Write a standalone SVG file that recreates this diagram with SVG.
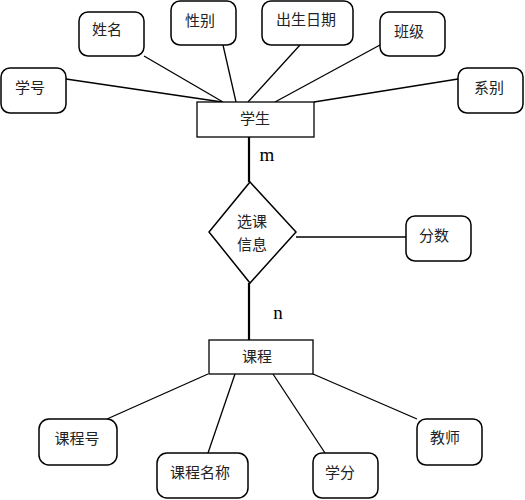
<svg xmlns="http://www.w3.org/2000/svg" width="525" height="500" viewBox="0 0 525 500">
<style>
.bg{fill:#fff}
.attr{fill:#fff;stroke:#000;stroke-width:1.5}
.ent{fill:#fff;stroke:#000;stroke-width:1.3}
.rel{fill:#fff;stroke:#000;stroke-width:1.5}
.t{font-family:"Noto Sans CJK SC","Noto Sans",sans-serif;font-size:15px;fill:#222;text-anchor:middle}
.c{font-family:"Liberation Serif",serif;font-size:19px;fill:#000;text-anchor:middle}
.ln{stroke:#000;stroke-width:1.3;fill:none}
.lnb{stroke:#000;stroke-width:2.2;fill:none}
</style>
<rect class="bg" x="0" y="0" width="525" height="500"/>
<g id="connectors">
<line class="ln" x1="66" y1="79" x2="222" y2="102"/>
<line class="ln" x1="144" y1="56" x2="223" y2="102"/>
<line class="ln" x1="223" y1="45" x2="236" y2="102"/>
<line class="ln" x1="300" y1="45" x2="248" y2="102"/>
<line class="ln" x1="380" y1="45" x2="275" y2="102"/>
<line class="ln" x1="458" y1="79" x2="314" y2="102"/>
<line class="lnb" x1="249" y1="137" x2="249" y2="182"/>
<line class="lnb" x1="249" y1="283" x2="249" y2="340"/>
<line class="ln" x1="296" y1="237" x2="406" y2="237"/>
<line class="ln" x1="208" y1="374" x2="107" y2="419"/>
<line class="ln" x1="235" y1="374" x2="208" y2="453"/>
<line class="ln" x1="273" y1="374" x2="325" y2="453"/>
<line class="ln" x1="313" y1="374" x2="417" y2="419"/>
<text class="c" x="267" y="161">m</text>
<text class="c" x="278" y="319">n</text>
</g>
<g id="student">
<rect class="ent" x="197" y="102" width="117" height="35"/>
<text class="t" x="255" y="124">学生</text>
</g>
<g id="sno">
<rect class="attr" x="1" y="68" width="65" height="45" rx="9"/>
<text class="t" x="30" y="93">学号</text>
</g>
<g id="sname">
<rect class="attr" x="79" y="12" width="65" height="44" rx="9"/>
<text class="t" x="107" y="35">姓名</text>
</g>
<g id="sex">
<rect class="attr" x="171" y="1" width="65" height="44" rx="9"/>
<text class="t" x="200" y="26">性别</text>
</g>
<g id="birth">
<rect class="attr" x="262" y="1" width="91" height="44" rx="9"/>
<text class="t" x="306" y="25">出生日期</text>
</g>
<g id="class">
<rect class="attr" x="380" y="12" width="65" height="44" rx="9"/>
<text class="t" x="409" y="37">班级</text>
</g>
<g id="dept">
<rect class="attr" x="458" y="68" width="65" height="45" rx="9"/>
<text class="t" x="489" y="93">系别</text>
</g>
<g id="enroll">
<polygon class="rel" points="250,182 296,232 250,283 209,232"/>
<text class="t" x="252" y="227">选课</text>
<text class="t" x="252" y="250">信息</text>
</g>
<g id="score">
<rect class="attr" x="406" y="216" width="65" height="45" rx="9"/>
<text class="t" x="434" y="241">分数</text>
</g>
<g id="course">
<rect class="ent" x="209" y="340" width="104" height="34"/>
<text class="t" x="257" y="362">课程</text>
</g>
<g id="cno">
<rect class="attr" x="39" y="419" width="78" height="46" rx="10"/>
<text class="t" x="77" y="444">课程号</text>
</g>
<g id="cname">
<rect class="attr" x="157" y="453" width="91" height="45" rx="10"/>
<text class="t" x="200" y="478">课程名称</text>
</g>
<g id="credit">
<rect class="attr" x="313" y="453" width="65" height="45" rx="9"/>
<text class="t" x="340" y="478">学分</text>
</g>
<g id="teacher">
<rect class="attr" x="417" y="419" width="65" height="46" rx="9"/>
<text class="t" x="445" y="443">教师</text>
</g>
</svg>
